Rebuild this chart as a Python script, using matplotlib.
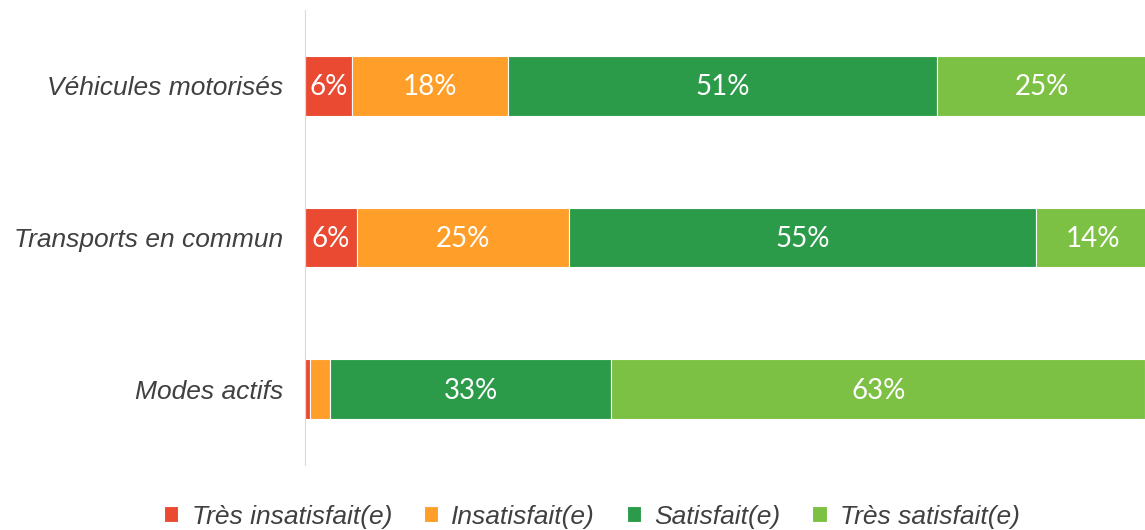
import numpy as np
import matplotlib.pyplot as plt

# Satisfaction by travel mode (share of respondents, %)
categories = ["Véhicules motorisés", "Transports en commun", "Modes actifs"]
series_names = ["Très insatisfait(e)", "Insatisfait(e)", "Satisfait(e)", "Très satisfait(e)"]
tres_insatisfait = [5.6, 6.2, 0.6]
insatisfait = [18.5, 25.2, 2.4]
satisfait = [51.0, 55.4, 33.4]
tres_satisfait = [24.9, 13.6, 63.4]

colors = ["#E94A31", "#FF9F29", "#2B9B4A", "#7CC143"]

fig = plt.figure(figsize=(11.45, 5.30), dpi=100)
ax = fig.add_axes([0.2664, 0.1226, 0.7336, 0.8585])

y = np.arange(len(categories))
left = np.zeros(len(categories))
for name, vals, col in zip(series_names,
                           [tres_insatisfait, insatisfait, satisfait, tres_satisfait],
                           colors):
    vals = np.array(vals)
    ax.barh(y, vals, left=left, height=0.395, color=col, edgecolor="white",
            linewidth=0.8, label=name)
    # only label segments wide enough to hold text
    for yi, l, v in zip(y, left, vals):
        if v >= 5:
            ax.text(l + v / 2, yi + 0.01, f"{v:.0f}%", ha="center", va="center",
                    color="white", fontsize=20, family="Lato")
    left = left + vals

ax.set_xlim(0, 99.8)
ax.set_ylim(len(categories) - 0.5, -0.5)
ax.set_xticks([])
for side in ["top", "right", "bottom"]:
    ax.spines[side].set_visible(False)
ax.spines["left"].set_color("#D9D9D9")
ax.set_yticks(y)
ax.set_yticklabels(categories)
ax.tick_params(axis="y", length=0, pad=16)
for t in ax.get_yticklabels():
    t.set_fontsize(19)
    t.set_fontstyle("italic")
    t.set_color("#404040")
    t.set_fontfamily("Liberation Sans")

handles, labels = ax.get_legend_handles_labels()
leg = fig.legend(handles, labels, loc="center", bbox_to_anchor=(0.517, 0.025),
                 ncol=4, frameon=False, handlelength=0.55, handleheight=0.55,
                 handletextpad=0.5, columnspacing=1.2,
                 prop={"family": "Liberation Sans", "style": "italic", "size": 19})
for t in leg.get_texts():
    t.set_color("#404040")

fig.savefig("out.png", dpi=100)
